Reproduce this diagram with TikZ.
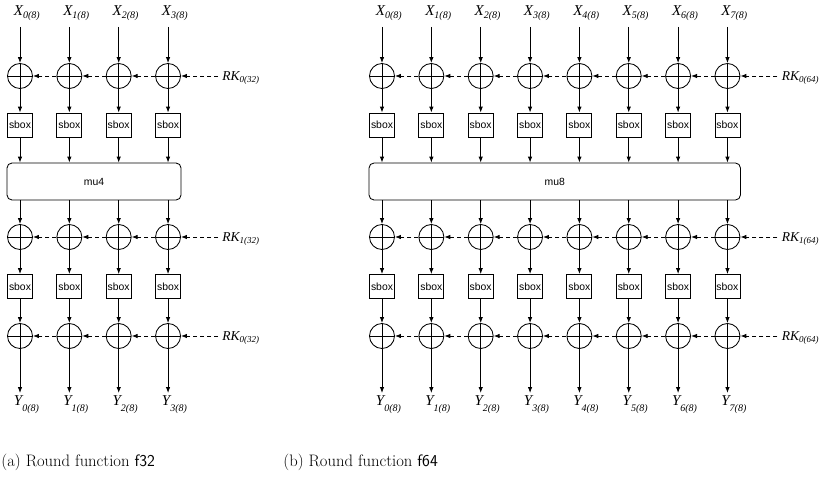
\documentclass[tikz,border=0pt]{standalone}
\usepackage{fontspec}
\newfontfamily\figsans{Liberation Sans}
\newfontfamily\figserif{Liberation Serif}
\usetikzlibrary{arrows.meta,positioning}

\newcommand\xsub[1]{\raisebox{-.17em}{\fontsize{10}{11}\selectfont#1}}
\newcommand\ysub[1]{\raisebox{-.45em}{\fontsize{10}{11}\selectfont#1}}
\newcommand\ksub[1]{\raisebox{-.2em}{\fontsize{9}{10}\selectfont#1}}

\tikzset{
	xor/.style={circle,draw,minimum size=25pt,inner sep=0pt,
		path picture={\draw (path picture bounding box.north) -- (path picture bounding box.south)
			(path picture bounding box.west) -- (path picture bounding box.east);}},
	sbox/.style={rectangle,draw,minimum width=25pt,minimum height=24pt,inner sep=0pt,
		font=\figsans\fontsize{10.4}{12}\selectfont},
	mix/.style={rectangle,draw,rounded corners=5pt,minimum height=37pt,inner sep=0pt,
		font=\figsans\fontsize{10.4}{12}\selectfont},
	lab/.style={inner sep=0pt,font=\figserif\itshape\fontsize{15}{17}\selectfont},
	keylab/.style={inner sep=0pt,inner xsep=4pt,anchor=base west,font=\figserif\itshape\fontsize{13.5}{16}\selectfont},
	key/.style={->,dash pattern=on 4pt off 3pt},
	subcap/.style={inner sep=0pt,anchor=base west,font=\fontsize{16.6}{20}\selectfont}
}

\begin{document}
\begin{tikzpicture}[x=1pt,y=-1pt,line width=0.85pt,>={Latex[length=6pt,width=4.5pt]}]
	\useasboundingbox (0,0) rectangle (821,487);
	\foreach \f/\n/\ox/\k/\w in {a/3/20/32/4, b/7/382/64/8}{
		% one column per byte
		\foreach \i in {0,...,\n}{
			\pgfmathsetmacro\cx{\ox+49.35*\i}
			\node[lab,anchor=base west] (x\f\i) at (\cx-6.5,16) {X\xsub{\i(8)}};
			\coordinate (in\f\i) at (\cx,27);
			\node[xor] (p\f\i) at (\cx,76) {};
			\node[sbox] (s\f\i) at (\cx,125) {sbox};
			\node[xor] (q\f\i) at (\cx,237) {};
			\node[sbox] (t\f\i) at (\cx,286.5) {sbox};
			\node[xor] (r\f\i) at (\cx,336) {};
			\coordinate (out\f\i) at (\cx,393);
			\node[lab,anchor=base west] (y\f\i) at (\cx-6.5,405) {Y\ysub{\i(8)}};
		}
		\pgfmathsetmacro\mx{\ox+49.35*\n/2}
		\pgfmathsetmacro\mw{49.35*\n+26}
		\node[mix,minimum width=\mw] (mu\f) at (\mx,181.5) {mu\w};
		% round keys
		\pgfmathsetmacro\kx{\ox+49.35*\n+50}
		\node[keylab] (ka\f) at (\kx,80) {RK\ksub{0(\k)}};
		\node[keylab] (kb\f) at (\kx,241) {RK\ksub{1(\k)}};
		\node[keylab] (kc\f) at (\kx,340) {RK\ksub{0(\k)}};
		\draw[key] (ka\f.west |- p\f\n) -- (p\f\n);
		\draw[key] (kb\f.west |- q\f\n) -- (q\f\n);
		\draw[key] (kc\f.west |- r\f\n) -- (r\f\n);
		\pgfmathtruncatemacro\m{\n-1}
		\foreach \i [evaluate=\i as \j using int(\i+1)] in {0,...,\m}{
			\draw[key] (p\f\j) -- (p\f\i);
			\draw[key] (q\f\j) -- (q\f\i);
			\draw[key] (r\f\j) -- (r\f\i);
		}
		% data path
		\foreach \i in {0,...,\n}{
			\draw[->] (in\f\i) -- (p\f\i);
			\draw[->] (p\f\i) -- (s\f\i);
			\draw[->] (s\f\i) -- (s\f\i |- mu\f.north);
			\draw[->] (q\f\i |- mu\f.south) -- (q\f\i);
			\draw[->] (q\f\i) -- (t\f\i);
			\draw[->] (t\f\i) -- (r\f\i);
			\draw[->] (r\f\i) -- (out\f\i);
		}
	}
	\node[subcap] (capa) at (1,466) {(a) Round function \textsf{f32}};
	\node[subcap] (capb) at (283,466) {(b) Round function \textsf{f64}};
\end{tikzpicture}
\end{document}
